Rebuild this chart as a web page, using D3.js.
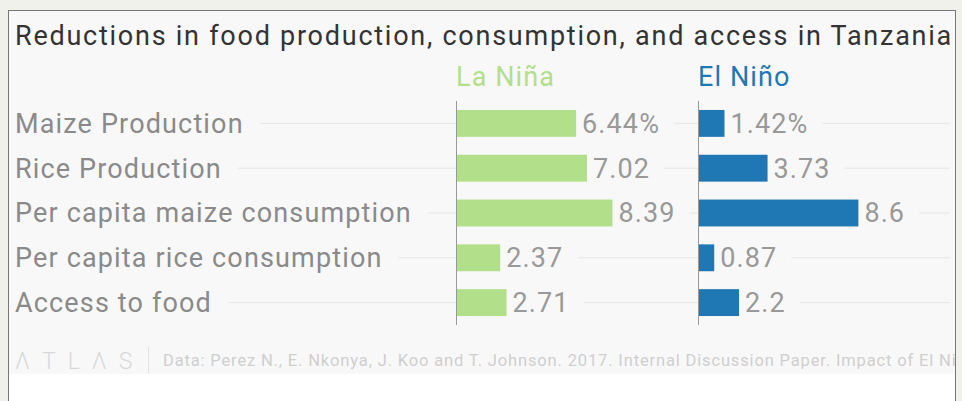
<!DOCTYPE html>
<html>
<head>
<meta charset="utf-8">
<script src="https://cdn.jsdelivr.net/npm/d3@7"></script>
<style>
  html, body { margin: 0; padding: 0; background: #f1f1ec; }
  svg { display: block; font-family: Roboto, sans-serif; }
</style>
</head>
<body>
<div id="chart"></div>
<script>
const W = 962, H = 401;

// data
const categories = ["Maize Production", "Rice Production", "Per capita maize consumption",
                    "Per capita rice consumption", "Access to food"];
const laNina = [6.44, 7.02, 8.39, 2.37, 2.71];
const elNino = [1.42, 3.73, 8.6, 0.87, 2.2];
const seriesNames = ["La Niña", "El Niño"];
const colors = ["#b2df8a", "#1f78b4"];

const title = "Reductions in food production, consumption, and access in Tanzania";
const source = "Data: Perez N., E. Nkonya, J. Koo and T. Johnson. 2017. Internal Discussion Paper. Impact of El Niño and La Niña on Tanzania";

const svg = d3.select("#chart").append("svg")
  .attr("width", W).attr("height", H);

// frame
svg.append("rect").attr("x", 8.5).attr("y", 10.5).attr("width", 947).attr("height", 400)
  .attr("fill", "#fff").attr("stroke", "#777");
svg.append("rect").attr("x", 9).attr("y", 11).attr("width", 946).attr("height", 363)
  .attr("fill", "#f8f8f8");

svg.append("defs").append("clipPath").attr("id", "clip")
  .append("rect").attr("x", 9).attr("y", 11).attr("width", 946).attr("height", 390);

const root = svg.append("g").attr("clip-path", "url(#clip)");

root.append("text")
  .attr("x", 15).attr("y", 45)
  .attr("font-size", 27).attr("letter-spacing", 1.75).attr("fill", "#333")
  .text(title);

// scales
const y = d3.scaleBand()
  .domain(categories)
  .range([101, 325])
  .paddingInner(0.4).paddingOuter(0.2);

const panelX = [456, 698];
const x = d3.scaleLinear().domain([0, 10]).range([0, 186.5]);

// row labels + gridlines
const labels = root.append("g");
categories.forEach(c => {
  const t = labels.append("text")
    .attr("x", 15).attr("y", y(c) + y.bandwidth() / 2)
    .attr("dy", "0.35em")
    .attr("font-size", 27).attr("letter-spacing", 1.15).attr("fill", "#8a8a8a")
    .text(c);
  const end = 15 + t.node().getComputedTextLength();
  labels.append("line")
    .attr("x1", end + 16).attr("x2", panelX[0])
    .attr("y1", y(c) + y.bandwidth() / 2).attr("y2", y(c) + y.bandwidth() / 2)
    .attr("stroke", "#e6e6e6");
});

[laNina, elNino].forEach((vals, si) => {
  const g = root.append("g").attr("transform", `translate(${panelX[si]},0)`);
  const panelEnd = si === 0 ? panelX[1] - panelX[0] : 950 - panelX[1];

  g.append("text")
    .attr("x", 0).attr("y", 86)
    .attr("font-size", 27).attr("letter-spacing", 1.1).attr("fill", colors[si])
    .text(seriesNames[si]);

  categories.forEach((c, i) => {
    const cy = y(c) + y.bandwidth() / 2;
    g.append("rect")
      .attr("x", 0).attr("y", y(c))
      .attr("width", x(vals[i])).attr("height", y.bandwidth())
      .attr("fill", colors[si]);
    const t = g.append("text")
      .attr("x", x(vals[i]) + 6).attr("y", cy)
      .attr("dy", "0.35em")
      .attr("font-size", 27).attr("letter-spacing", 1.1).attr("fill", "#999")
      .text(i === 0 ? vals[i] + "%" : vals[i]);
    const end = x(vals[i]) + 6 + t.node().getComputedTextLength();
    g.append("line")
      .attr("x1", end + 14).attr("x2", panelEnd)
      .attr("y1", cy).attr("y2", cy)
      .attr("stroke", "#e6e6e6");
  });

  g.append("line")
    .attr("x1", 0.5).attr("x2", 0.5)
    .attr("y1", 101).attr("y2", 325)
    .attr("stroke", "#999");
});

// footer
root.append("text")
  .attr("x", 15).attr("y", 369)
  .attr("font-size", 23).attr("font-weight", 300)
  .attr("letter-spacing", 12)
  .attr("fill", "#d8d8d8")
  .text("ΛTLΛS");
root.append("line")
  .attr("x1", 148.5).attr("x2", 148.5).attr("y1", 347).attr("y2", 373)
  .attr("stroke", "#e2e2e2");
root.append("text")
  .attr("x", 163).attr("y", 366)
  .attr("font-size", 16.5).attr("letter-spacing", 0.85).attr("fill", "#cfcfcf")
  .text(source);
</script>
</body>
</html>
